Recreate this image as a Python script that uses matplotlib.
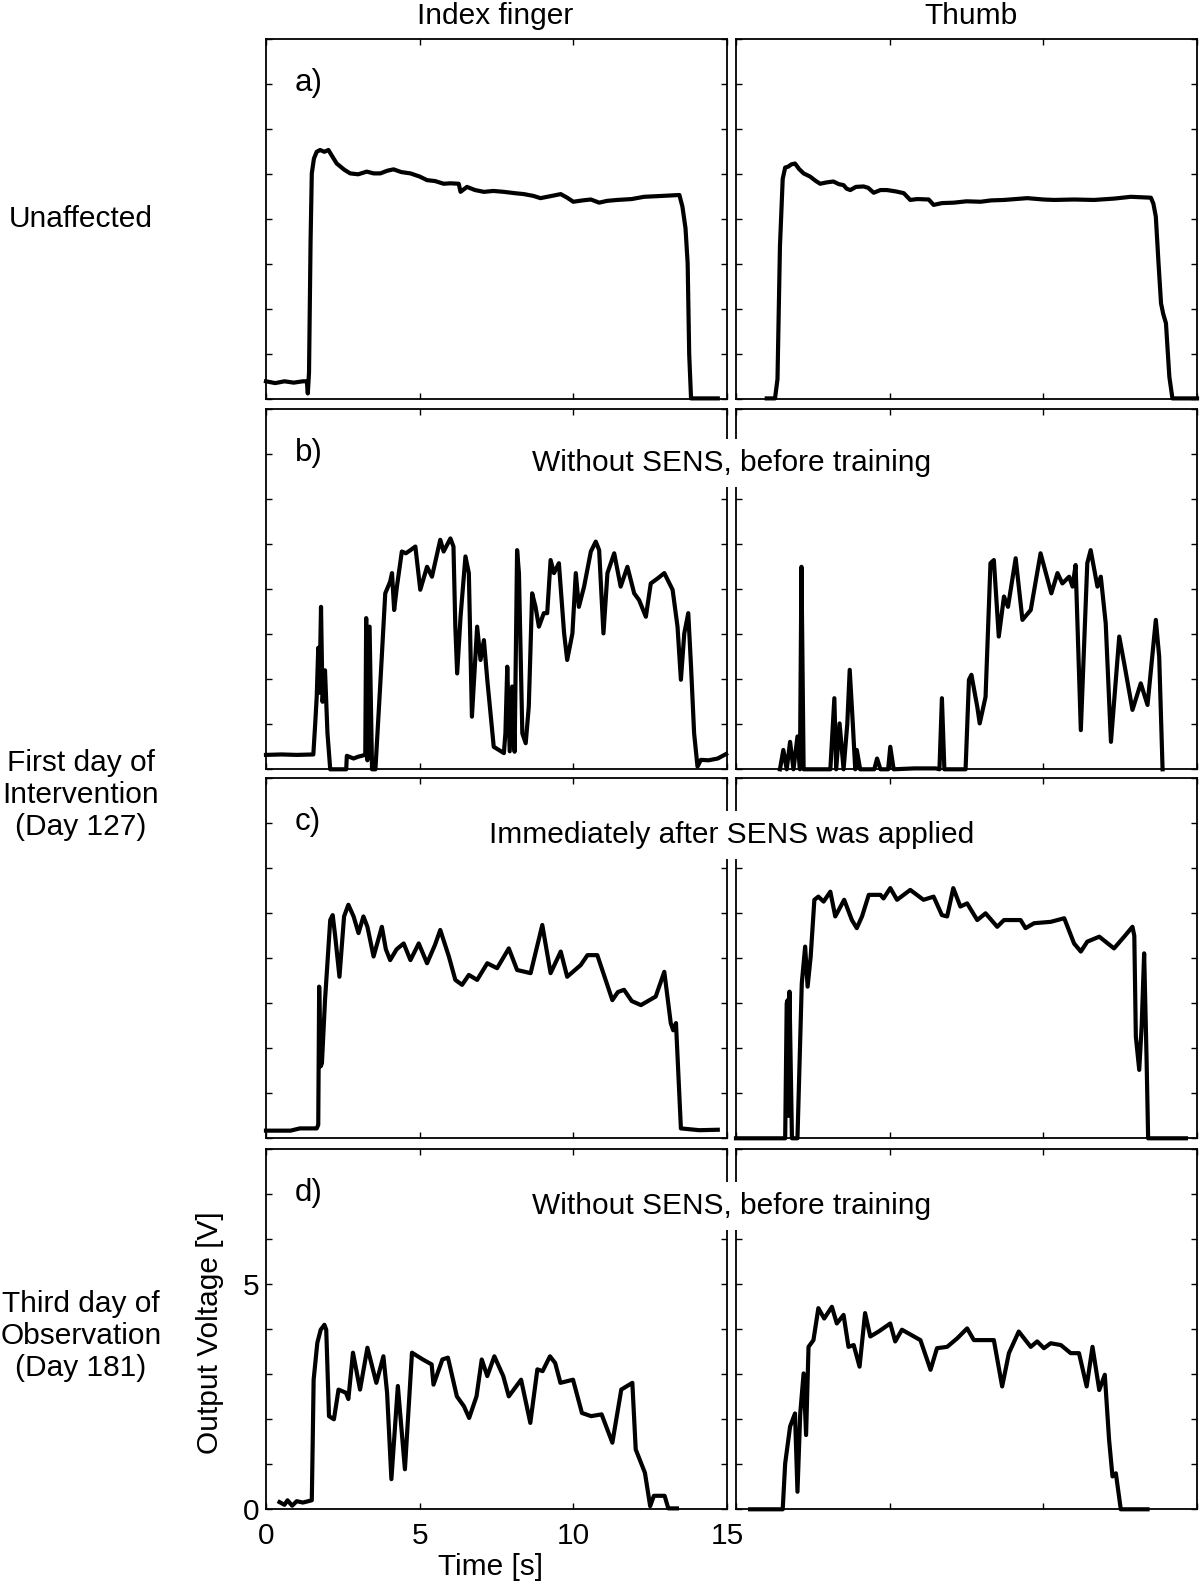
import matplotlib.pyplot as plt
import numpy as np

plt.rcParams['font.family'] = ['Liberation Sans', 'DejaVu Sans']

# (time [s], output voltage [V])
index_a = [(0.0, 0.40), (0.3, 0.36), (0.6, 0.40), (0.9, 0.37), (1.2, 0.40), (1.33, 0.40), (1.36, 0.13),
           (1.40, 0.6), (1.45, 3.5), (1.49, 5.02), (1.56, 5.35), (1.65, 5.5), (1.76, 5.54), (1.9, 5.5),
           (2.03, 5.54), (2.3, 5.24), (2.55, 5.1), (2.74, 5.02), (3.0, 5.0), (3.28, 5.06), (3.5, 5.02),
           (3.72, 5.02), (3.95, 5.08), (4.15, 5.11), (4.4, 5.05), (4.7, 5.02), (5.0, 4.95), (5.24, 4.87),
           (5.5, 4.85), (5.78, 4.79), (6.0, 4.8), (6.27, 4.79), (6.33, 4.61), (6.54, 4.72), (6.8, 4.65),
           (7.09, 4.61), (7.4, 4.63), (7.74, 4.61), (8.1, 4.58), (8.39, 4.56), (8.7, 4.52), (8.93, 4.47),
           (9.3, 4.52), (9.59, 4.56), (9.8, 4.48), (10.0, 4.39), (10.3, 4.42), (10.57, 4.44), (10.84, 4.37),
           (11.1, 4.41), (11.43, 4.43), (11.9, 4.45), (12.3, 4.5), (12.9, 4.52), (13.45, 4.54), (13.55, 4.28),
           (13.65, 3.8), (13.72, 3.02), (13.77, 1.0), (13.83, 0.02), (14.2, 0.02), (14.7, 0.02)]

thumb_a = [(1.0, 0.02), (1.27, 0.02), (1.35, 0.45), (1.43, 3.4), (1.52, 4.9), (1.6, 5.15), (1.7, 5.17),
           (1.8, 5.22), (1.92, 5.24), (2.05, 5.12), (2.2, 5.02), (2.41, 4.95), (2.6, 4.85), (2.74, 4.79),
           (2.95, 4.82), (3.17, 4.84), (3.35, 4.78), (3.5, 4.76), (3.6, 4.68), (3.72, 4.65), (3.9, 4.72),
           (4.15, 4.73), (4.3, 4.70), (4.48, 4.59), (4.7, 4.65), (4.91, 4.65), (5.2, 4.62), (5.46, 4.58),
           (5.67, 4.43), (5.9, 4.45), (6.27, 4.44), (6.43, 4.32), (6.7, 4.36), (7.09, 4.37), (7.5, 4.40),
           (7.96, 4.39), (8.3, 4.42), (8.72, 4.43), (9.1, 4.45), (9.48, 4.47), (10.0, 4.44), (10.35, 4.43),
           (11.0, 4.44), (11.65, 4.43), (12.3, 4.46), (12.85, 4.5), (13.5, 4.48), (13.58, 4.35), (13.66, 4.06),
           (13.75, 3.0), (13.83, 2.13), (13.9, 1.9), (13.99, 1.69), (14.1, 0.5), (14.2, 0.02), (15.0, 0.02)]

index_b = [(0.0, 0.32), (0.5, 0.33), (1.0, 0.32), (1.54, 0.33), (1.6, 1.0), (1.65, 1.61), (1.70, 2.7),
           (1.74, 1.7), (1.79, 3.61), (1.84, 1.5), (1.92, 2.2), (2.0, 0.8), (2.09, 0.0), (2.61, 0.0),
           (2.63, 0.3), (2.85, 0.24), (3.0, 0.28), (3.23, 0.32), (3.26, 3.36), (3.30, 0.2), (3.37, 3.17),
           (3.45, 0.0), (3.56, 0.0), (3.72, 1.91), (3.88, 3.91), (4.04, 4.17), (4.1, 4.36), (4.17, 3.54),
           (4.26, 4.06), (4.42, 4.84), (4.55, 4.8), (4.7, 4.87), (4.86, 4.95), (5.02, 3.99), (5.24, 4.5),
           (5.4, 4.28), (5.67, 5.1), (5.78, 4.84), (6.0, 5.13), (6.1, 4.95), (6.16, 3.17), (6.22, 2.13),
           (6.33, 3.39), (6.49, 4.73), (6.6, 4.36), (6.7, 1.17), (6.87, 3.17), (6.98, 2.43), (7.09, 2.87),
           (7.2, 1.99), (7.41, 0.5), (7.74, 0.36), (7.79, 0.8), (7.85, 2.28), (7.93, 0.4), (8.01, 1.84),
           (8.09, 0.39), (8.17, 4.87), (8.23, 4.36), (8.34, 0.8), (8.45, 0.58), (8.55, 1.39), (8.66, 3.91),
           (8.77, 3.61), (8.88, 3.17), (9.04, 3.47), (9.15, 3.47), (9.26, 4.65), (9.37, 4.36), (9.53, 4.58),
           (9.7, 3.02), (9.8, 2.43), (9.97, 3.02), (10.08, 4.36), (10.18, 3.61), (10.35, 4.06), (10.57, 4.84),
           (10.73, 5.06), (10.84, 4.87), (10.98, 3.02), (11.11, 4.36), (11.33, 4.8), (11.54, 4.06),
           (11.76, 4.5), (11.98, 3.91), (12.14, 3.76), (12.36, 3.39), (12.52, 4.13), (12.74, 4.24),
           (12.96, 4.36), (13.23, 3.99), (13.39, 3.17), (13.5, 1.99), (13.61, 3.02), (13.74, 3.47),
           (13.83, 2.28), (13.93, 0.8), (14.04, 0.06), (14.15, 0.21), (14.4, 0.2), (14.7, 0.24), (14.97, 0.34)]

thumb_b = [(1.43, 0.0), (1.54, 0.43), (1.65, 0.0), (1.76, 0.61), (1.87, 0.0), (2.0, 0.73), (2.08, 0.0),
           (2.13, 4.5), (2.2, 0.0), (3.07, 0.0), (3.2, 1.58), (3.26, 0.0), (3.37, 1.02), (3.5, 0.0),
           (3.62, 1.0), (3.7, 2.21), (3.8, 1.02), (3.88, 0.0), (3.93, 0.43), (4.04, 0.0), (4.5, 0.0),
           (4.59, 0.24), (4.7, 0.0), (4.95, 0.0), (5.02, 0.5), (5.13, 0.0), (5.8, 0.02), (6.5, 0.02),
           (6.62, 0.0), (6.7, 1.58), (6.78, 0.0), (7.47, 0.0), (7.58, 1.99), (7.66, 2.1), (7.85, 1.39),
           (7.93, 1.02), (8.12, 1.61), (8.28, 4.58), (8.39, 4.65), (8.55, 2.95), (8.72, 3.84), (8.85, 3.61),
           (9.1, 4.69), (9.32, 3.32), (9.59, 3.54), (9.91, 4.8), (10.26, 3.91), (10.46, 4.36), (10.62, 4.13),
           (10.84, 4.28), (10.95, 4.06), (11.05, 4.54), (11.22, 0.87), (11.43, 4.58), (11.54, 4.87),
           (11.76, 4.06), (11.87, 4.28), (12.03, 3.24), (12.2, 0.61), (12.47, 2.95), (12.63, 2.36),
           (12.9, 1.32), (13.17, 1.91), (13.39, 1.43), (13.66, 3.32), (13.77, 2.5), (13.88, 0.0)]

index_c = [(0.0, 0.17), (0.8, 0.17), (1.1, 0.22), (1.65, 0.22), (1.70, 0.3), (1.73, 3.37), (1.78, 1.6),
           (1.82, 1.67), (1.92, 3.07), (2.09, 4.85), (2.17, 4.96), (2.25, 4.5), (2.39, 3.59), (2.54, 4.93),
           (2.68, 5.19), (2.85, 4.93), (3.01, 4.56), (3.17, 4.93), (3.3, 4.7), (3.5, 4.04), (3.77, 4.7),
           (3.9, 4.2), (4.04, 3.96), (4.25, 4.2), (4.48, 4.33), (4.7, 3.96), (4.97, 4.33), (5.24, 3.89),
           (5.5, 4.3), (5.67, 4.63), (5.95, 4.04), (6.16, 3.52), (6.38, 3.41), (6.6, 3.63), (6.87, 3.52),
           (7.2, 3.89), (7.52, 3.78), (7.9, 4.22), (8.17, 3.74), (8.61, 3.67), (8.99, 4.74), (9.26, 3.67),
           (9.59, 4.15), (9.8, 3.59), (10.24, 3.85), (10.46, 4.07), (10.78, 4.07), (11.05, 3.52),
           (11.27, 3.07), (11.45, 3.25), (11.65, 3.3), (11.9, 3.05), (12.2, 2.96), (12.68, 3.15),
           (12.96, 3.7), (13.17, 2.56), (13.25, 2.4), (13.34, 2.56), (13.5, 0.22), (14.1, 0.18), (14.7, 0.19)]

thumb_c = [(0.0, 0.0), (1.6, 0.0), (1.65, 3.0), (1.68, 3.07), (1.71, 0.5), (1.74, 3.26), (1.82, 0.0),
           (2.0, 0.0), (2.14, 3.44), (2.25, 4.26), (2.33, 3.37), (2.43, 4.04), (2.55, 5.3), (2.68, 5.37),
           (2.85, 5.26), (3.07, 5.48), (3.23, 4.93), (3.52, 5.3), (3.77, 4.85), (3.93, 4.67), (4.1, 4.93),
           (4.32, 5.41), (4.7, 5.41), (4.8, 5.33), (5.02, 5.56), (5.24, 5.3), (5.67, 5.52), (6.1, 5.3),
           (6.43, 5.37), (6.7, 4.96), (6.87, 4.93), (7.07, 5.56), (7.3, 5.15), (7.52, 5.22), (7.85, 4.85),
           (8.12, 5.0), (8.5, 4.7), (8.72, 4.85), (9.26, 4.85), (9.42, 4.67), (9.7, 4.78), (10.24, 4.81),
           (10.68, 4.89), (11.0, 4.33), (11.22, 4.15), (11.43, 4.37), (11.82, 4.48), (12.3, 4.22),
           (12.63, 4.48), (12.9, 4.7), (12.96, 4.5), (13.01, 2.26), (13.12, 1.52), (13.2, 2.5), (13.28, 4.11),
           (13.36, 1.74), (13.41, 0.0), (14.64, 0.0)]

index_d = [(0.44, 0.16), (0.6, 0.1), (0.7, 0.2), (0.85, 0.08), (1.0, 0.18), (1.2, 0.15), (1.49, 0.2),
           (1.52, 1.5), (1.55, 2.88), (1.67, 3.7), (1.78, 3.99), (1.9, 4.1), (1.96, 3.99), (2.05, 2.07),
           (2.21, 2.0), (2.36, 2.66), (2.6, 2.59), (2.68, 2.45), (2.83, 3.48), (3.06, 2.66), (3.3, 3.59),
           (3.59, 2.81), (3.82, 3.4), (3.94, 2.59), (4.08, 0.67), (4.29, 2.74), (4.52, 0.89), (4.75, 3.48),
           (5.1, 3.33), (5.39, 3.22), (5.45, 2.77), (5.74, 3.33), (5.92, 3.37), (6.21, 2.51), (6.44, 2.29),
           (6.61, 2.03), (6.85, 2.51), (7.02, 3.33), (7.2, 2.96), (7.43, 3.4), (7.72, 2.96), (7.9, 2.51),
           (8.3, 2.88), (8.6, 1.92), (8.83, 3.11), (9.0, 3.07), (9.24, 3.4), (9.41, 3.25), (9.58, 2.81),
           (9.99, 2.88), (10.28, 2.14), (10.58, 2.07), (10.92, 2.11), (11.27, 1.48), (11.56, 2.66),
           (11.92, 2.81), (12.03, 1.33), (12.33, 0.81), (12.5, 0.07), (12.62, 0.3), (12.97, 0.3),
           (13.09, 0.02), (13.37, 0.02)]

thumb_d = [(0.46, 0.0), (1.52, 0.0), (1.6, 1.02), (1.76, 1.84), (1.92, 2.13), (2.0, 0.39), (2.09, 2.13),
           (2.2, 3.02), (2.28, 1.65), (2.36, 3.61), (2.52, 3.76), (2.68, 4.47), (2.87, 4.24), (3.12, 4.5),
           (3.28, 4.13), (3.5, 4.32), (3.66, 3.61), (3.83, 3.65), (4.02, 3.17), (4.2, 4.36), (4.37, 3.84),
           (4.64, 3.95), (5.02, 4.13), (5.18, 3.73), (5.4, 3.99), (6.0, 3.76), (6.33, 3.1), (6.54, 3.58),
           (6.87, 3.61), (7.2, 3.8), (7.52, 4.02), (7.74, 3.76), (8.39, 3.76), (8.66, 2.73), (8.88, 3.47),
           (9.2, 3.95), (9.59, 3.61), (9.8, 3.73), (10.02, 3.58), (10.24, 3.69), (10.57, 3.65), (10.89, 3.47),
           (11.16, 3.47), (11.41, 2.73), (11.6, 3.61), (11.82, 2.65), (12.0, 2.99), (12.14, 1.54),
           (12.25, 0.73), (12.36, 0.8), (12.52, 0.0), (13.39, 0.0)]

panel_letters = ['a)', 'b)', 'c)', 'd)']
column_titles = ['Index finger', 'Thumb']
row_labels = ['Unaffected', 'First day of\nIntervention\n(Day 127)', 'Third day of\nObservation\n(Day 181)']
notes = ['Without SENS, before training', 'Immediately after SENS was applied', 'Without SENS, before training']

traces = [[index_a, thumb_a], [index_b, thumb_b], [index_c, thumb_c], [index_d, thumb_d]]

W, H = 1200, 1585
fig = plt.figure(figsize=(W / 100, H / 100), dpi=100)

lefts = [266, 736]
tops = [39.3, 409.3, 778.3, 1149.3]
pw, ph = 461, 360
fs = 21.5

axes = []
for r in range(4):
    row = []
    for c in range(2):
        ax = fig.add_axes([lefts[c] / W, 1 - (tops[r] + ph) / H, pw / W, ph / H])
        tv = np.array(traces[r][c]).T
        ax.plot(tv[0], tv[1], color='black', lw=3.0, solid_joinstyle='round', clip_on=False)
        ax.set_xlim(0, 15)
        ax.set_ylim(0, 8)
        ax.set_xticks([0, 5, 10, 15])
        ax.set_yticks(range(9))
        ax.tick_params(direction='in', top=True, right=True, length=4.5, width=1, labelsize=fs)
        for s in ax.spines.values():
            s.set_linewidth(1.3)
        if r == 3 and c == 0:
            ax.set_xticklabels(['0', '5', '10', '15'])
            ax.set_yticklabels(['0', '', '', '', '', '5', '', '', ''])
            ax.tick_params(axis='x', pad=9)
            ax.tick_params(axis='y', pad=5)
        else:
            ax.set_xticklabels([])
            ax.set_yticklabels([])
        if c == 0:
            ax.text(0.063, 0.857, panel_letters[r], transform=ax.transAxes, fontsize=fs + 1,
                    ha='left', va='baseline')
        row.append(ax)
    axes.append(row)

# column titles and row labels
fig.text(495 / W, 1 - 16 / H, column_titles[0], fontsize=fs, ha='center', va='center')
fig.text(971 / W, 1 - 16 / H, column_titles[1], fontsize=fs, ha='center', va='center')
fig.text(81 / W, 1 - 219 / H, row_labels[0], fontsize=fs, ha='center', va='center')
fig.text(81 / W, 1 - 795 / H, row_labels[1], fontsize=fs, ha='center', va='center',
         multialignment='center', linespacing=1.2)
fig.text(81 / W, 1 - 1336 / H, row_labels[2], fontsize=fs, ha='center', va='center',
         multialignment='center', linespacing=1.2)

# condition notes spanning both columns
for y, txt in zip([471, 843, 1214], notes):
    fig.text(732 / W, 1 - y / H, txt, fontsize=fs, ha='center', va='baseline', zorder=10,
             bbox=dict(facecolor='white', edgecolor='none', pad=7))

fig.text(210 / W, 1 - 1333 / H, 'Output Voltage [V]', fontsize=fs, rotation=90, ha='center', va='center')
fig.text(490 / W, 1 - 1567 / H, 'Time [s]', fontsize=fs, ha='center', va='center')

fig.savefig('out.png', dpi=100)
